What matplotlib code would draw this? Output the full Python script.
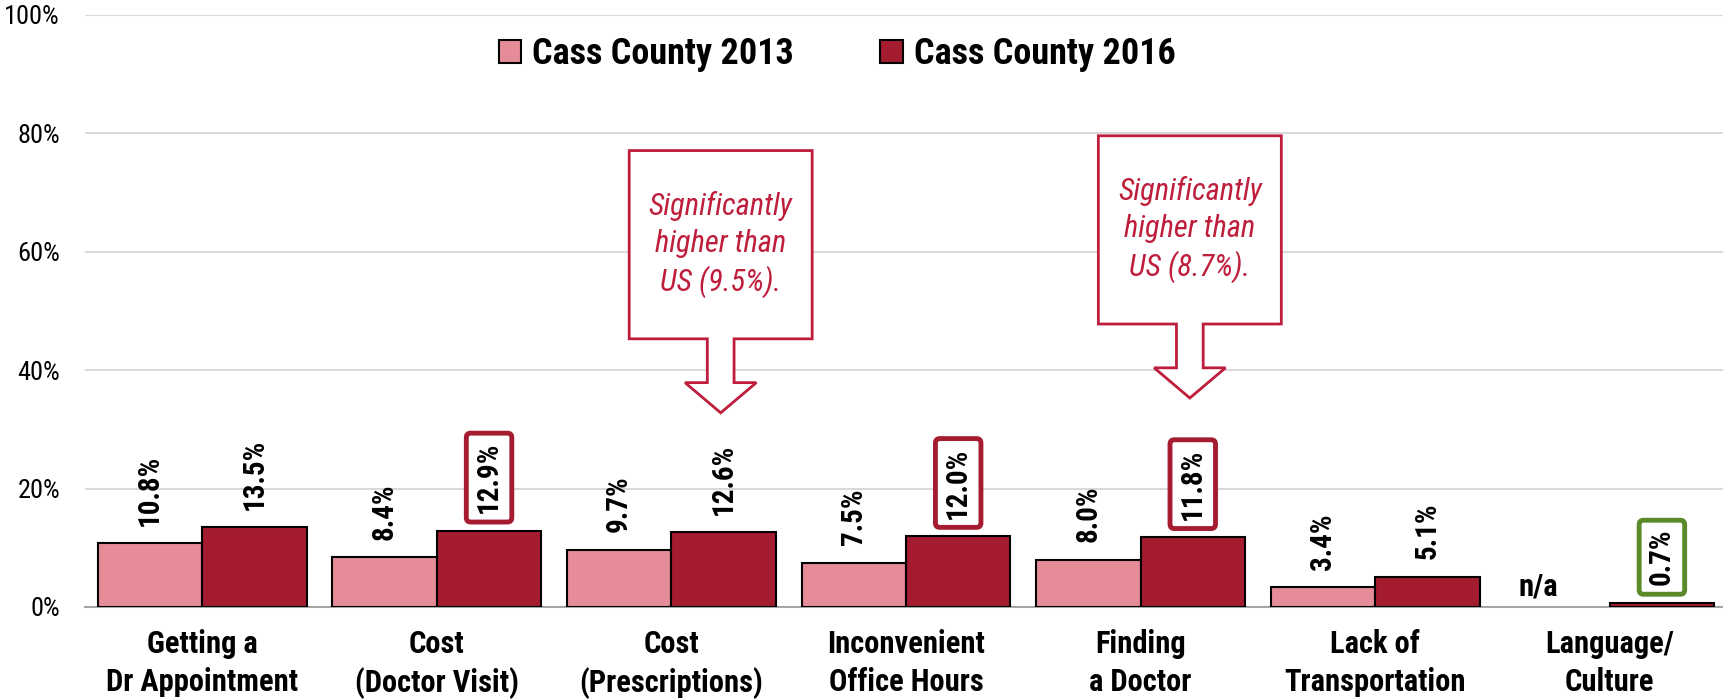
import numpy as np
import matplotlib
matplotlib.use("Agg")
import matplotlib.pyplot as plt
from matplotlib import font_manager
from matplotlib.patches import Polygon

# data
categories = ["Getting a\nDr Appointment", "Cost\n(Doctor Visit)", "Cost\n(Prescriptions)",
              "Inconvenient\nOffice Hours", "Finding\na Doctor", "Lack of\nTransportation",
              "Language/\nCulture"]
cass_2013 = [10.8, 8.4, 9.7, 7.5, 8.0, 3.4, np.nan]
cass_2016 = [13.5, 12.9, 12.6, 12.0, 11.8, 5.1, 0.7]
series_names = ["Cass County 2013", "Cass County 2016"]
yticks = [0, 20, 40, 60, 80, 100]

# labels with a box: index -> box colour
boxed_2016 = {1: "#A51C30", 3: "#A51C30", 4: "#A51C30", 6: "#5A8A2A"}

callout_idx = [2, 4]
callout_top = [77.1, 79.6]
callout_text = ["Significantly\nhigher than\nUS (9.5%).", "Significantly\nhigher than\nUS (8.7%)."]

PINK = "#E68B98"
DARK = "#A51C30"
CALLOUT_RED = "#BE1E3C"

names = {f.name for f in font_manager.fontManager.ttflist}
FONT = next(n for n in ("Roboto Condensed", "Archivo Narrow", "Liberation Sans") if n in names)
FAM = [FONT, "DejaVu Sans"]
plt.rcParams["font.family"] = FAM

fig = plt.figure(figsize=(17.23, 7.0), dpi=100)
ax = fig.add_axes([85 / 1723, 1 - 607 / 700, (1727 - 85) / 1723, (607 - 15) / 700])

x = np.arange(len(categories))
w = 0.445
b1 = ax.bar(x - w / 2, cass_2013, w, color=PINK, edgecolor="black", linewidth=1.5,
            label=series_names[0], zorder=3)
b2 = ax.bar(x + w / 2, cass_2016, w, color=DARK, edgecolor="black", linewidth=1.5,
            label=series_names[1], zorder=3)

ax.set_xlim(-0.5, len(categories) - 0.5)
ax.set_ylim(0, 100)
ax.set_yticks(yticks)
ax.set_yticklabels([f"{v}%" for v in yticks], fontsize=19)
ax.set_xticks(x)
ax.set_xticklabels(categories, fontsize=22, fontweight="bold", linespacing=1.32)
ax.tick_params(axis="both", length=0)
ax.tick_params(axis="x", pad=16)
ax.tick_params(axis="y", pad=18)
ax.grid(axis="y", color="#D9D9D9", linewidth=1.5)
ax.set_axisbelow(True)
for s in ["top", "right", "left"]:
    ax.spines[s].set_visible(False)
ax.spines["bottom"].set_color("#A6A6A6")
ax.spines["bottom"].set_linewidth(1.5)

# value labels
for i, v in enumerate(cass_2013):
    if np.isnan(v):
        ax.annotate("n/a", (i - w / 2 - 0.08, 0), xytext=(0, 4), textcoords="offset points",
                    ha="center", va="bottom", fontsize=22, fontweight="bold", zorder=5)
    else:
        ax.annotate(f"{v:.1f}%", (i - w / 2, v), xytext=(0, 12.5), textcoords="offset points",
                    ha="center", va="bottom", rotation=90, fontsize=21, fontweight="bold", zorder=5)
for i, v in enumerate(cass_2016):
    bbox = None
    if i in boxed_2016:
        bbox = dict(boxstyle="round,pad=0.3,rounding_size=0.15", facecolor="white",
                    edgecolor=boxed_2016[i], linewidth=3.5)
    ax.annotate(f"{v:.1f}%", (i + w / 2, v), xytext=(0, 12.5), textcoords="offset points",
                ha="center", va="bottom", rotation=90, fontsize=21, fontweight="bold",
                bbox=bbox, zorder=5)

# down-arrow callouts
half_w, box_h = 0.39, 31.8
shaft_w, shaft_len = 0.057, 7.4
head_w, head_len = 0.152, 5.1
for idx, top, txt in zip(callout_idx, callout_top, callout_text):
    cx = idx + 0.21
    bot = top - box_h
    sb = bot - shaft_len
    tip = sb - head_len
    verts = [(cx - half_w, top), (cx + half_w, top), (cx + half_w, bot), (cx + shaft_w, bot),
             (cx + shaft_w, sb), (cx + head_w, sb), (cx, tip), (cx - head_w, sb),
             (cx - shaft_w, sb), (cx - shaft_w, bot), (cx - half_w, bot)]
    ax.add_patch(Polygon(verts, closed=True, facecolor="white", edgecolor=CALLOUT_RED,
                         linewidth=2, zorder=4))
    ax.text(cx, top - box_h / 2, txt, ha="center", va="center", fontsize=22, style="italic",
            color=CALLOUT_RED, linespacing=1.32, zorder=5)

fig.legend(handles=[b1, b2], loc="center", bbox_to_anchor=(837 / 1723, 1 - 54 / 700),
           ncol=2, frameon=False, prop=dict(family=FAM, weight="bold", size=26),
           handlelength=0.62, handleheight=0.62, handletextpad=0.3, columnspacing=2.4)

fig.savefig("out.png", dpi=100)
